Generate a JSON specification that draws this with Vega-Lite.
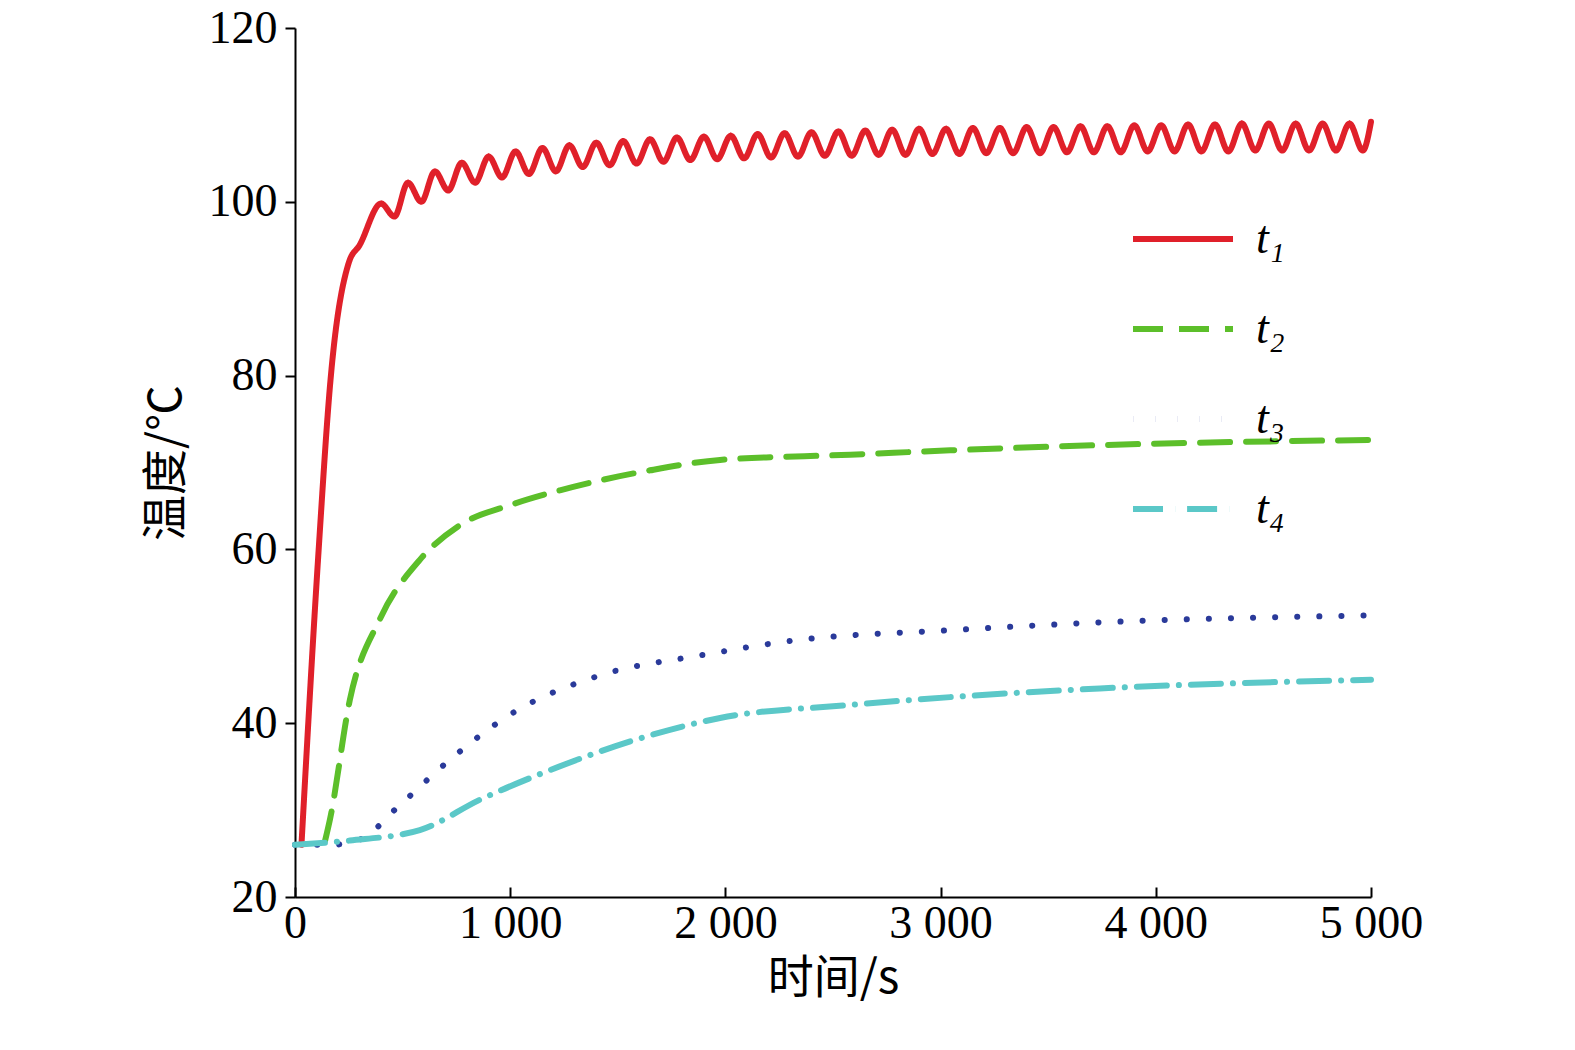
{
  "$schema": "https://vega.github.io/schema/vega-lite/v6.json",
  "width": 1076,
  "height": 869,
  "autosize": "none",
  "padding": {"left": 295, "top": 28, "right": 204, "bottom": 153},
  "background": "white",
  "config": {"view": {"stroke": null}, "font": "Liberation Serif"},
  "data": {"values": [
    {"s":"t1","t":30,"v":26},{"s":"t1","t":110,"v":60},{"s":"t1","t":165,"v":79.5},{"s":"t1","t":250,"v":93},{"s":"t1","t":300,"v":95},{"s":"t1","t":400,"v":99.8},{"s":"t1","t":462,"v":98.3},
    {"s":"t1","t":525,"v":102.2},{"s":"t1","t":587,"v":100},{"s":"t1","t":650,"v":103.5},{"s":"t1","t":712,"v":101.3},{"s":"t1","t":775,"v":104.5},{"s":"t1","t":837,"v":102.2},
    {"s":"t1","t":900,"v":105.2},{"s":"t1","t":962,"v":102.8},{"s":"t1","t":1025,"v":105.8},{"s":"t1","t":1087,"v":103.2},{"s":"t1","t":1150,"v":106.2},{"s":"t1","t":1212,"v":103.5},
    {"s":"t1","t":1275,"v":106.5},{"s":"t1","t":1337,"v":104},{"s":"t1","t":1400,"v":106.8},{"s":"t1","t":1462,"v":104.2},{"s":"t1","t":1525,"v":107},{"s":"t1","t":1587,"v":104.4},
    {"s":"t1","t":1650,"v":107.2},{"s":"t1","t":1712,"v":104.6},{"s":"t1","t":1775,"v":107.4},{"s":"t1","t":1837,"v":104.8},{"s":"t1","t":1900,"v":107.5},{"s":"t1","t":1962,"v":104.9},
    {"s":"t1","t":2025,"v":107.6},{"s":"t1","t":2087,"v":105},{"s":"t1","t":2150,"v":107.8},{"s":"t1","t":2212,"v":105.1},{"s":"t1","t":2275,"v":107.9},{"s":"t1","t":2337,"v":105.2},
    {"s":"t1","t":2400,"v":108},{"s":"t1","t":2462,"v":105.3},{"s":"t1","t":2525,"v":108.1},{"s":"t1","t":2587,"v":105.3},{"s":"t1","t":2650,"v":108.2},{"s":"t1","t":2712,"v":105.4},
    {"s":"t1","t":2775,"v":108.3},{"s":"t1","t":2837,"v":105.4},{"s":"t1","t":2900,"v":108.4},{"s":"t1","t":2962,"v":105.5},{"s":"t1","t":3025,"v":108.4},{"s":"t1","t":3087,"v":105.5},
    {"s":"t1","t":3150,"v":108.5},{"s":"t1","t":3212,"v":105.6},{"s":"t1","t":3275,"v":108.5},{"s":"t1","t":3337,"v":105.6},{"s":"t1","t":3400,"v":108.6},{"s":"t1","t":3462,"v":105.6},
    {"s":"t1","t":3525,"v":108.6},{"s":"t1","t":3587,"v":105.7},{"s":"t1","t":3650,"v":108.7},{"s":"t1","t":3712,"v":105.7},{"s":"t1","t":3775,"v":108.7},{"s":"t1","t":3837,"v":105.7},
    {"s":"t1","t":3900,"v":108.8},{"s":"t1","t":3962,"v":105.8},{"s":"t1","t":4025,"v":108.8},{"s":"t1","t":4087,"v":105.8},{"s":"t1","t":4150,"v":108.9},{"s":"t1","t":4212,"v":105.8},
    {"s":"t1","t":4275,"v":108.9},{"s":"t1","t":4337,"v":105.8},{"s":"t1","t":4400,"v":109},{"s":"t1","t":4462,"v":105.9},{"s":"t1","t":4525,"v":109},{"s":"t1","t":4587,"v":105.9},
    {"s":"t1","t":4650,"v":109},{"s":"t1","t":4712,"v":105.9},{"s":"t1","t":4775,"v":109},{"s":"t1","t":4837,"v":105.9},{"s":"t1","t":4900,"v":109},{"s":"t1","t":4962,"v":105.9},{"s":"t1","t":5000,"v":109.2},
    {"s":"t2","t":140,"v":26.5},{"s":"t2","t":163,"v":29},{"s":"t2","t":255,"v":42.7},{"s":"t2","t":395,"v":52},{"s":"t2","t":580,"v":58.8},{"s":"t2","t":767,"v":62.8},{"s":"t2","t":1000,"v":65.1},
    {"s":"t2","t":1231,"v":66.8},{"s":"t2","t":1650,"v":69.1},{"s":"t2","t":1975,"v":70.3},{"s":"t2","t":2580,"v":70.9},{"s":"t2","t":3045,"v":71.4},{"s":"t2","t":3740,"v":72},{"s":"t2","t":5000,"v":72.6},
    {"s":"t3","t":0,"v":26},{"s":"t3","t":163,"v":26},{"s":"t3","t":300,"v":26.6},{"s":"t3","t":488,"v":30.6},{"s":"t3","t":720,"v":35.8},{"s":"t3","t":1000,"v":41},{"s":"t3","t":1417,"v":45.5},
    {"s":"t3","t":1882,"v":47.8},{"s":"t3","t":2347,"v":49.6},{"s":"t3","t":3045,"v":50.7},{"s":"t3","t":3740,"v":51.6},{"s":"t3","t":5000,"v":52.4},
    {"s":"t4","t":0,"v":26},{"s":"t4","t":255,"v":26.5},{"s":"t4","t":580,"v":27.7},{"s":"t4","t":860,"v":31.2},{"s":"t4","t":1185,"v":34.6},{"s":"t4","t":1650,"v":38.6},
    {"s":"t4","t":1975,"v":40.6},{"s":"t4","t":2580,"v":42.1},{"s":"t4","t":3045,"v":43},{"s":"t4","t":3740,"v":44},{"s":"t4","t":5000,"v":45}
  ]},
  "mark": {"type": "line", "strokeWidth": 6, "interpolate": "monotone", "strokeCap": "round"},
  "encoding": {
    "x": {"field": "t", "type": "quantitative", "scale": {"domain": [0, 5000], "nice": false},
      "axis": {"values": [0,1000,2000,3000,4000,5000], "grid": false, "title": "时间/s", "titleFont": "Noto Sans CJK SC", "titleFontWeight": "normal", "titleFontSize": 46, "titlePadding": 10,
        "labelFontSize": 46, "labelFlush": false, "labelExpr": "datum.value == 0 ? '0' : floor(datum.value/1000) + ' 000'", "labelPadding": 14, "tickSize": -10, "domainColor": "black", "tickColor": "black", "domainWidth": 2, "tickWidth": 2, "labelColor": "black", "titleColor": "black"}},
    "y": {"field": "v", "type": "quantitative", "scale": {"domain": [20, 120], "nice": false},
      "axis": {"values": [20,40,60,80,100,120], "grid": false, "title": "温度/℃", "titleFont": "Noto Sans CJK SC", "titleFontWeight": "normal", "titleFontSize": 46, "titlePadding": 18,
        "labelFontSize": 46, "labelPadding": 8, "tickSize": 10, "domainColor": "black", "tickColor": "black", "domainWidth": 2, "tickWidth": 2, "labelColor": "black", "titleColor": "black"}},
    "color": {"field": "s", "type": "nominal",
      "scale": {"domain": ["t1","t2","t3","t4"], "range": ["#e0202a","#5cbf2a","#2a3a9a","#5bc8c8"]},
      "legend": {"orient": "none", "legendX": 835, "legendY": 158, "title": null, "symbolType": "stroke", "symbolSize": 10000, "symbolStrokeWidth": 6,
        "labelFontSize": 46, "labelFontStyle": "italic", "labelExpr": "datum.label == 't1' ? 't₁' : datum.label == 't2' ? 't₂' : datum.label == 't3' ? 't₃' : 't₄'", "rowPadding": 14, "labelOffset": 20, "labelColor": "black"}},
    "strokeDash": {"field": "s", "type": "nominal",
      "scale": {"domain": ["t1","t2","t3","t4"], "range": [[1,0],[30,16],[0.1,22],[30,12,0.1,12]]}, "legend": null}
  }
}
